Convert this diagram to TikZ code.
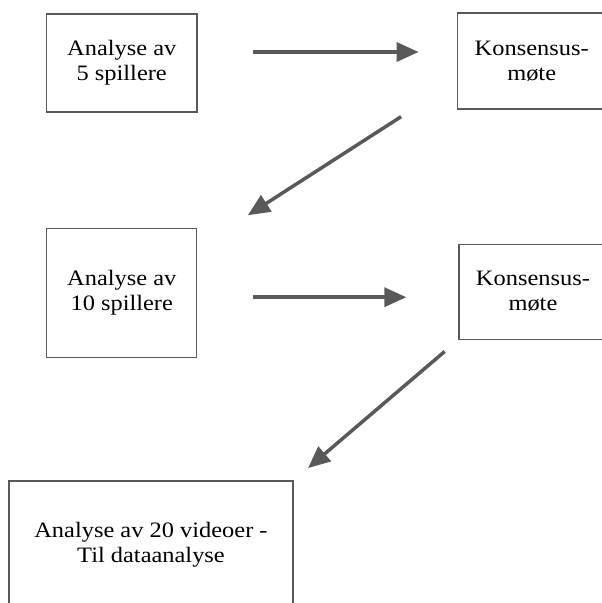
\documentclass[tikz,border=0pt]{standalone}
\usepackage{fontspec}
\setmainfont{Liberation Serif}[FakeStretch=1.11]
\usetikzlibrary{positioning,arrows.meta}

\tikzset{
    box/.style={draw=black!65, line width=1.2pt, align=center, inner sep=0pt,
        font=\fontsize{22}{25}\selectfont},
    flow/.style={-{Triangle[length=22pt,width=19pt]}, draw=black!65, line width=3.5pt},
}

\begin{document}
\begin{tikzpicture}[x=1pt,y=-1pt]
    \useasboundingbox (0,0) rectangle (602,603);
    \clip (0,0) rectangle (602,603);

    \node[box, minimum width=150.5pt, minimum height=98pt] (a5) at (121.75,63) {Analyse av\\5 spillere};
    \node[box, minimum width=149pt, minimum height=96pt, right=259pt of a5, yshift=2pt] (k1) {Konsensus-\\møte};
    \node[box, minimum width=150pt, minimum height=129pt, below=115pt of a5] (a10) {Analyse av\\10 spillere};
    \node[box, minimum width=148pt, minimum height=95pt, right=261pt of a10, yshift=1pt] (k2) {Konsensus-\\møte};
    \node[box, minimum width=284pt, minimum height=128pt] (v20) at (151,545) {Analyse av 20 videoer -\\Til dataanalyse};

    % left to right arrows
    \draw[flow, shorten <=55pt, shorten >=38pt] ([yshift=11pt]a5.east) -- ([yshift=9pt]k1.west);
    \draw[flow, shorten <=56pt, shorten >=52pt] ([yshift=-4.5pt]a10.east) -- ([yshift=-5.5pt]k2.west);

    % diagonal arrows
    \draw[flow, shorten <=66pt, shorten >=60pt] ([yshift=-20pt]k1.west) -- ([yshift=45pt]a10.east);
    \draw[flow, shorten <=18pt, shorten >=19pt] (k2.south west) -- (v20.north east);
\end{tikzpicture}
\end{document}
